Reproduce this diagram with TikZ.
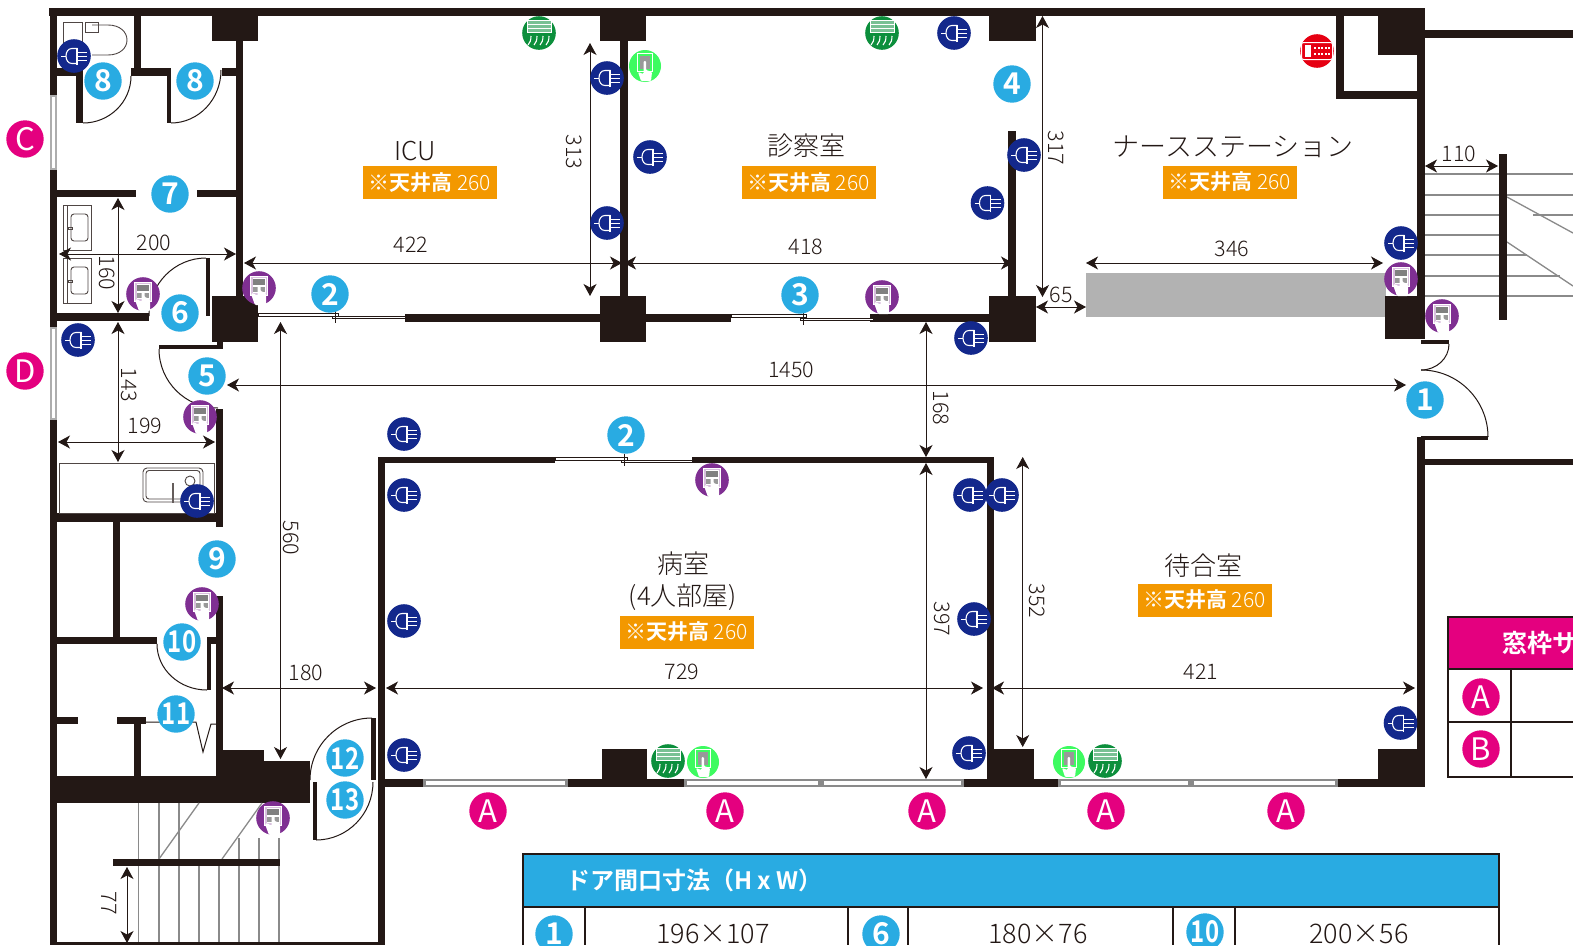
\documentclass[tikz,border=0pt]{standalone}
\usepackage{fontspec}
\setmainfont{Noto Sans CJK JP Light}[BoldFont={Noto Sans CJK JP Bold}]
\newfontfamily\regf{Noto Sans CJK JP}
\usetikzlibrary{arrows.meta,calc}
\definecolor{wallc}{HTML}{231815}
\definecolor{cblue}{HTML}{29ABE2}
\definecolor{cpink}{HTML}{E4007F}
\definecolor{cnavy}{HTML}{13288C}
\definecolor{cpurple}{HTML}{7F2F92}
\definecolor{cgreen}{HTML}{0C8F3C}
\definecolor{clime}{HTML}{3DFB60}
\definecolor{cred}{HTML}{E60012}
\definecolor{corange}{HTML}{F39800}
\definecolor{cgrayline}{HTML}{8A8A8A}
\newcommand{\fs}[1]{\fontsize{#1}{#1}\selectfont}
\newcommand{\nar}[1]{\scalebox{.8}[1]{#1}}
\tikzset{
  wallfill/.style={fill=wallc,draw=none},
  doorarc/.style={draw=wallc,line width=1pt},
  stairline/.style={draw=cgrayline,line width=1.3pt},
  fixture/.style={draw=wallc!80,line width=.9pt},
  dimline/.style={draw=wallc,line width=.8pt,{Stealth[length=12pt,width=13pt,inset=3.5pt]}-{Stealth[length=12pt,width=13pt,inset=3.5pt]}},
  dimtext/.style={text=wallc,font=\fs{21.5},inner sep=0pt},
  roomtext/.style={text=wallc,font=\fs{26},inner sep=0pt,align=center},
  badge/.style={circle,minimum size=37.4pt,inner sep=0pt,text=white},
  bluebadge/.style={badge,fill=cblue,font=\bfseries\fs{30}},
  pinkbadge/.style={badge,fill=cpink,font=\regf\fs{31}},
  iconbase/.style={circle,minimum size=33.6pt,inner sep=0pt},
  plugbase/.style={iconbase,fill=cnavy},
  ctrlbase/.style={iconbase,fill=cpurple},
  acbase/.style={iconbase,fill=cgreen},
  limebase/.style={iconbase,minimum size=32pt,fill=clime},
  redbase/.style={iconbase,fill=cred},
  ceiling/.style={fill=corange,text=white,inner sep=0pt,minimum width=134pt,minimum height=33pt},
  tableval/.style={text=wallc,font=\fs{27},inner sep=0pt},
  tableline/.style={draw=wallc,line width=2pt},
  plugicon/.pic={
    \draw[white,line width=1pt] (-13,0)--(-8,0);
    \draw[white,line width=1.1pt] (3,-7.5)--(-2,-7.5) .. controls (-6,-7.5) and (-8,-4) .. (-8,0) .. controls (-8,4) and (-6,7.5) .. (-2,7.5) -- (3,7.5);
    \draw[white,line width=1.8pt] (3,-8.5)--(3,8.5);
    \draw[white,line width=1pt] (3,-4)--(13,-4) (3,0)--(13,0) (3,4)--(13,4);
  },
  ctrlicon/.pic={
    \draw[white,line width=.9pt,fill=white!70!cpurple] (-8.5,-12) rectangle (8.5,7);
    \fill[white] (-6.5,-10) rectangle (6.5,5);
    \fill[gray] (-6,-9.5) rectangle (6,-3);
    \fill[gray!80] (-6,-1) rectangle (6,4);
    \fill[white,rounded corners=1pt] (-1.5,-3) -- (1.5,-3) -- (1.5,3) -- (7,5) -- (7,17) -- (-4,17) -- (-8,6) -- (-6,5) -- (-1.5,8) -- cycle;
  },
  limeicon/.pic={
    \draw[white,line width=1pt] (-8,-13) rectangle (7,5);
    \fill[gray!80] (-5.5,-10.5) rectangle (4.5,3);
    \fill[white,rounded corners=1pt] (-1.5,-5) -- (1,-5) -- (1,4) -- (7,6) -- (6,15) -- (-4,15) -- (-7,6) -- (-1.5,8) -- cycle;
  },
  acicon/.pic={
    \draw[white,line width=.9pt,fill=white!45!cgreen] (-12,-12.5) rectangle (12,-0.5);
    \draw[white,line width=.7pt] (-12,-8.5)--(12,-8.5) (-12,-5)--(12,-5);
    \foreach \q in {-9,-3,3,9}{\draw[white,line width=1.1pt] (\q+1,3) .. controls (\q+1,7) and (\q,10) .. (\q-2,12);}
  },
  redicon/.pic={
    \draw[white,line width=1pt,rounded corners=2pt] (-15.5,-8.5) rectangle (15.5,8.5);
    \fill[white] (-12.5,-6) rectangle (-6,6);
    \foreach \q in {-3,0.5,4,7.5,11}{\fill[white] (\q,-4.5) rectangle (\q+2,-2.5);\fill[white] (\q,2) rectangle (\q+2,4);}
  }
}
\newcommand{\W}[4]{\fill[wallfill] (#1,#2) rectangle (#3,#4);}
\newcommand{\Qarc}[3]{\draw[doorarc] (#1) .. controls ($(#1)!.5523!(#2)$) and ($(#3)!.5523!(#2)$) .. (#3);}
\newcommand{\Dim}[6]{% id, a, b, label pos, rotation, text
  \coordinate (#1a) at (#2); \coordinate (#1b) at (#3);
  \draw[dimline] (#1a) -- (#1b);
  \node[dimtext,rotate=#5] (#1t) at (#4) {#6};}
\newcommand{\Blue}[4]{\node[bluebadge] (#1) at (#2,#3) {#4};}
\newcommand{\Pink}[4]{\node[pinkbadge] (#1) at (#2,#3) {#4};}
\newcommand{\Plug}[3]{\node[plugbase] (#1) at (#2,#3) {}; \pic at (#2,#3) {plugicon};}
\newcommand{\Ctrl}[3]{\node[ctrlbase] (#1) at (#2,#3) {}; \pic at (#2,#3) {ctrlicon};}
\newcommand{\Lime}[3]{\node[limebase] (#1) at (#2,#3) {}; \pic at (#2,#3) {limeicon};}
\newcommand{\Acon}[3]{\node[acbase] (#1) at (#2,#3) {}; \pic at (#2,#3) {acicon};}
\newcommand{\Ceil}[3]{\node[ceiling] (#1) at (#2,#3) {\fs{21}\bfseries ※天井高\mdseries\ 260};}
\newcommand{\Slide}[3]{% x1 x2 y: one sliding-door leaf
  \draw[wallc,line width=.7pt,fill=white] (#1,#3) rectangle (#2,#3+2.6);}
\begin{document}
\begin{tikzpicture}[x=1pt,y=-1pt]
\useasboundingbox (0,0) rectangle (1573,945);
\fill[white] (0,0) rectangle (1573,945);
% windows, left side
\fill[cgrayline!70] (50,95) rectangle (57,170); \fill[white] (52,97) rectangle (55,168);
\fill[cgrayline!70] (50,327) rectangle (57,420); \fill[white] (52,329) rectangle (55,418);
% gray counter
\fill[gray!60] (1086,273) rectangle (1386,317);
% outer walls
\W{49}{8}{1425}{16}
\W{50}{8}{57}{95} \W{50}{170}{57}{327} \W{50}{420}{57}{945}
\W{57}{942}{385}{945}
\W{1417}{8}{1425}{339} \W{1425}{30}{1573}{38}
\W{1378}{8}{1425}{55} \W{1336}{16}{1344}{99} \W{1336}{91}{1425}{99}
\W{1385}{296}{1425}{339}
\W{1421}{340}{1449}{344}
\W{1421}{436}{1488}{440} \W{1417}{437}{1425}{787} \W{1425}{459}{1573}{465}
% columns and partition walls
\W{212}{16}{258}{41} \W{236}{41}{243}{296} \W{212}{296}{258}{342}
\W{600}{16}{646}{41} \W{620}{41}{628}{296} \W{600}{296}{646}{342}
\W{989}{16}{1036}{41} \W{1008}{131}{1016}{296} \W{989}{296}{1036}{342}
\W{405}{314}{600}{322} \W{646}{314}{731}{322} \W{870}{314}{989}{322}
% toilet and wash rooms
\W{134}{16}{141}{68} \W{57}{68}{83}{76} \W{76}{68}{83}{123}
\W{131}{68}{171}{76} \W{167}{68}{171}{123} \W{222}{68}{236}{76}
\W{57}{190}{136}{197} \W{197}{190}{236}{197}
\W{57}{313}{149}{321} \W{206}{258}{210}{316}
\W{217}{342}{223}{349} \W{159}{345}{222}{349}
\W{216}{409}{223}{527} \W{216}{596}{223}{750}
\W{57}{513}{217}{522} \W{113}{522}{120}{640}
\W{57}{637}{157}{644} \W{207}{637}{216}{644} \W{207}{637}{211}{690}
\W{57}{717}{78}{724} \W{117}{717}{146}{724} \W{134}{724}{141}{776}
\W{57}{776}{310}{803} \W{216}{750}{264}{776} \W{264}{761}{310}{776}
\W{371}{718}{376}{780} \W{313}{782}{317}{840}
% wards
\W{378}{457}{385}{945} \W{378}{457}{555}{463} \W{692}{457}{994}{463}
\W{987}{457}{994}{787}
\W{378}{779}{423}{787} \W{568}{779}{684}{787} \W{602}{749}{647}{779}
\W{964}{779}{1058}{787} \W{987}{749}{1034}{781} \W{1338}{779}{1425}{787} \W{1378}{749}{1425}{781}
% bottom windows
\foreach \a/\b in {423/568,684/821,821/964,1058/1191,1191/1338}{
  \fill[cgrayline] (\a,779) rectangle (\b,787);
  \fill[white] (\a+3,781) rectangle (\b-3,785);
}
% sliding doors
\Slide{258}{338}{313.5} \Slide{332}{405}{316} \draw[wallc,line width=.7pt] (335,311)--(335,323);
\Slide{731}{806}{314.5} \Slide{800}{873}{318} \draw[wallc,line width=.7pt] (803,312)--(803,325);
\Slide{555}{627}{457.5} \Slide{621}{692}{460} \draw[wallc,line width=.7pt] (624,454)--(624,466);
% door swings
\Qarc{83,123}{131,123}{131,76}
\Qarc{171,123}{221,123}{221,70}
\Qarc{206,258}{149,258}{149,316}
\Qarc{159,349}{159,408}{218,408}
\Qarc{157,644}{157,690}{207,690}
\Qarc{372,718}{310,718}{310,780}
\Qarc{316,840}{373,840}{373,782}
\Qarc{1449,344}{1449,370}{1421,370}
\Qarc{1421,370}{1488,370}{1488,437}
\draw[doorarc] (146,722)--(196,722)--(203,752)--(211,724)--(216,724);
% fixtures
\draw[fixture] (63,22) rectangle (82,60);
\draw[fixture] (85,22) rectangle (98,32);
\draw[fixture] (92,25) -- (108,25) .. controls (120,25) and (127,32) .. (127,40) .. controls (127,48) and (120,55) .. (108,55) -- (92,55);
\foreach \t in {205,258}{
  \draw[fixture] (63,\t) rectangle (91,\t+45) (67,\t)--(67,\t+45);
  \draw[fixture,rounded corners=3pt] (71,\t+9) rectangle (88,\t+36);
  \draw[fixture] (68,\t+22) rectangle (72,\t+24);
}
\draw[fixture] (59.5,463.5) rectangle (214,513);
\draw[fixture,rounded corners=4pt] (143,468) rectangle (203,502);
\draw[fixture,rounded corners=3pt] (146,470.5) rectangle (200,499);
\draw[fixture] (190,481) circle[radius=5];
\draw[wallc!70,line width=2pt] (173,483)--(173,503);
% stairs, lower left
\foreach \q in {138.5,159,179}{\draw[stairline] (\q,803)--(\q,859);}
\draw[stairline] (199,803)--(159,859);
\draw[stairline] (262,803)--(222,859);
\foreach \q in {239,259,279}{\draw[stairline] (\q,838)--(\q,859);}
\foreach \q in {138.5,159,179,199,219,239,259,279}{\draw[stairline] (\q,866)--(\q,942);}
\W{113}{859}{280}{866}
% stairs, right
\foreach \q in {174,195,215,235,255,276,296}{\draw[stairline] (1425,\q)--(1499,\q);}
\draw[stairline] (1507,174)--(1573,174) (1507,195)--(1573,195) (1533,215)--(1573,215);
\draw[stairline] (1507,255)--(1527,255) (1507,276)--(1560,276) (1507,296)--(1573,296);
\draw[stairline] (1507,197)--(1573,233) (1507,242)--(1573,286);
\W{1499}{154}{1507}{320}
% dimensions
\Dim{da}{59,254}{236,254}{154,243}{0}{200}
\Dim{db}{118,198}{118,313}{107,273}{-90}{160}
\Dim{dc}{118,322}{118,462}{129,385}{-90}{143}
\Dim{dd}{58,442}{215,442}{145,426}{0}{199}
\Dim{de}{244,263}{622,263}{411,245}{0}{422}
\Dim{df}{624,263}{1013,263}{806,247}{0}{418}
\Dim{dg}{590,43}{590,296}{574,152}{-90}{313}
\Dim{dh}{1042.5,16}{1042.5,297}{1056,148}{-90}{317}
\Dim{di}{1036,307}{1086,307}{1061,295}{0}{65}
\Dim{dj}{1086,263}{1383,263}{1232,249}{0}{346}
\Dim{dk}{1425,166}{1498,166}{1459,154}{0}{110}
\Dim{dl}{227,385}{1406,385}{791,370}{0}{1450}
\Dim{dm}{926,322}{926,457}{941,408}{-90}{168}
\Dim{dn}{280.5,322}{280.5,759}{291,538}{-90}{560}
\Dim{do}{926,463}{926,779}{942,619}{-90}{397}
\Dim{dp}{1022.7,457}{1022.7,747}{1037,601}{-90}{352}
\Dim{dq}{386,688}{983,688}{682,672}{0}{729}
\Dim{dr}{222,688}{376,688}{306,673}{0}{180}
\Dim{ds}{992,688}{1415,688}{1201,672}{0}{421}
\Dim{dt}{127,867}{127,943}{109,903}{-90}{77}
% room names
\node[roomtext] (rIcu) at (415,151) {ICU};
\node[roomtext] (rExam) at (806,146) {診察室};
\node[roomtext,font=\fs{27}] (rNurse) at (1233,147) {ナースステーション};
\node[roomtext] (rWard) at (683,581) {病室\\[6pt](4人部屋)};
\node[roomtext] (rWait) at (1203,566) {待合室};
\Ceil{cIcu}{430}{182.5}
\Ceil{cExam}{808.5}{182.5}
\Ceil{cNurse}{1230}{182}
\Ceil{cWard}{686.5}{632}
\Ceil{cWait}{1204.5}{600}
% icons
\Plug{pa}{74}{56} \Plug{pb}{78}{340} \Plug{pc}{197}{501}
\Plug{pd}{404}{434} \Plug{pe}{404}{495} \Plug{pf}{404}{621} \Plug{pg}{404}{755}
\Plug{ph}{607}{78} \Plug{pi}{650}{157} \Plug{pj}{607}{223} \Plug{pk}{954}{33}
\Plug{pl}{1024}{155} \Plug{pm}{987.5}{203} \Plug{pn}{971}{338}
\Plug{po}{970}{495} \Plug{pp}{1002}{495} \Plug{pq}{974}{619} \Plug{pr}{969}{753}
\Plug{ps}{1400.5}{723} \Plug{pt}{1401}{243}
\Ctrl{ca}{143}{294} \Ctrl{cb}{259}{288} \Ctrl{cc}{200}{417} \Ctrl{cd}{202}{604}
\Ctrl{ce}{273}{818} \Ctrl{cf}{882}{297} \Ctrl{cg}{712}{480} \Ctrl{ch}{1401}{279} \Ctrl{ci}{1442}{316}
\Acon{aa}{539}{33} \Acon{ab}{882}{33} \Acon{ac}{668}{761} \Acon{ad}{1105}{761}
\Lime{la}{645}{66} \Lime{lb}{703}{762} \Lime{lc}{1069}{762}
\node[redbase] (ra) at (1317,51) {}; \pic at (1317,51) {redicon};
% badges
\Blue{b8a}{103}{81}{8} \Blue{b8b}{195}{81}{8} \Blue{b7}{170}{194}{7} \Blue{b6}{180}{313}{6}
\Blue{b2a}{330}{294}{2} \Blue{b5}{207}{376}{5} \Blue{b9}{217}{559}{9}
\Blue{b10}{182}{642}{\nar{10}} \Blue{b11}{176}{714}{\nar{11}} \Blue{b12}{345}{758}{\nar{12}} \Blue{b13}{345}{800}{\nar{13}}
\Blue{b3}{800}{295}{3} \Blue{b4}{1012}{84}{4} \Blue{b1}{1425}{400}{1} \Blue{b2b}{626}{435}{2}
\Pink{pC}{25}{139}{C} \Pink{pD}{25}{371}{D}
\Pink{pA1}{488}{811}{A} \Pink{pA2}{725}{811}{A} \Pink{pA3}{927}{811}{A} \Pink{pA4}{1106}{811}{A} \Pink{pA5}{1286}{811}{A}
% door table
\fill[cblue] (523,854) rectangle (1499,907);
\draw[tableline] (523,945) -- (523,854) -- (1499,854) -- (1499,945);
\draw[tableline] (523,907) -- (1499,907);
\foreach \q in {585,848,908,1172.5,1235}{\draw[tableline] (\q,907)--(\q,945);}
\node[anchor=west,text=white,font=\bfseries\fs{24},inner sep=0pt] (tHead) at (566,880) {ドア間口寸法（H x W）};
\Blue{t1}{554}{934}{1} \Blue{t6}{881}{934}{6} \Blue{t10}{1205}{932}{\nar{10}}
\node[tableval] (v1) at (713,934) {196×107};
\node[tableval] (v6) at (1038,934) {180×76};
\node[tableval] (v10) at (1359,934) {200×56};
% window table
\fill[cpink] (1448,617) rectangle (1573,669);
\draw[tableline] (1573,617) -- (1448,617) -- (1448,777) -- (1573,777);
\draw[tableline] (1448,669) -- (1573,669) (1448,722) -- (1573,722) (1511,669) -- (1511,777);
\node[anchor=west,text=white,font=\bfseries\fs{25},inner sep=0pt] (wHead) at (1502,643) {窓枠サ};
\Pink{tA}{1481}{697}{A} \Pink{tB}{1481}{749}{B}
\end{tikzpicture}
\end{document}
